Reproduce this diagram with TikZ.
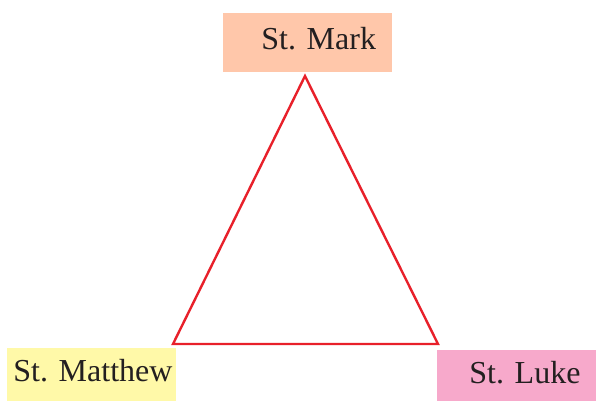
\documentclass[tikz,border=0pt]{standalone}
\usepackage{fontspec}
\setmainfont{Liberation Serif}
\usetikzlibrary{positioning}
\definecolor{MarkPeach}{HTML}{FFC7AA}
\definecolor{MatthewYellow}{HTML}{FFF9A8}
\definecolor{LukePink}{HTML}{F7A9CB}
\definecolor{EdgeRed}{HTML}{E8202A}
\definecolor{NameText}{HTML}{231F20}

\begin{document}
\begin{tikzpicture}[x=0.5pt,y=-0.5pt,
    every node/.style={font=\fontsize{16}{19}\selectfont,text=NameText},
    namebox/.style={rectangle,inner sep=0pt,anchor=north west}]
        \useasboundingbox (0,0) rectangle (596,401);
        % coloured boxes
        \node[namebox,fill=MarkPeach,minimum width=84.5pt,minimum height=29.5pt] (markbox) at (223,13) {};
        \node[namebox,fill=MatthewYellow,minimum width=84.5pt,minimum height=26.5pt] (matthewbox) at (7,348) {};
        \node[namebox,fill=LukePink,minimum width=79.5pt,minimum height=25.5pt] (lukebox) at (437,350) {};
        % names
        \node[anchor=base west,inner sep=0pt] (mark) at (261,49.5) {St. Mark};
        \node[anchor=base west,inner sep=0pt] (matthew) at (13,382) {St. Matthew};
        \node[anchor=base west,inner sep=0pt] (luke) at (469,384) {St. Luke};
        % triangle
        \coordinate (apex) at (305,76);
        \coordinate (leftcorner) at (173,344);
        \coordinate (rightcorner) at (438,344);
        \draw[EdgeRed,line width=1.2pt,line join=miter] (apex) -- (rightcorner) -- (leftcorner) -- cycle;
      \end{tikzpicture}
\end{document}
